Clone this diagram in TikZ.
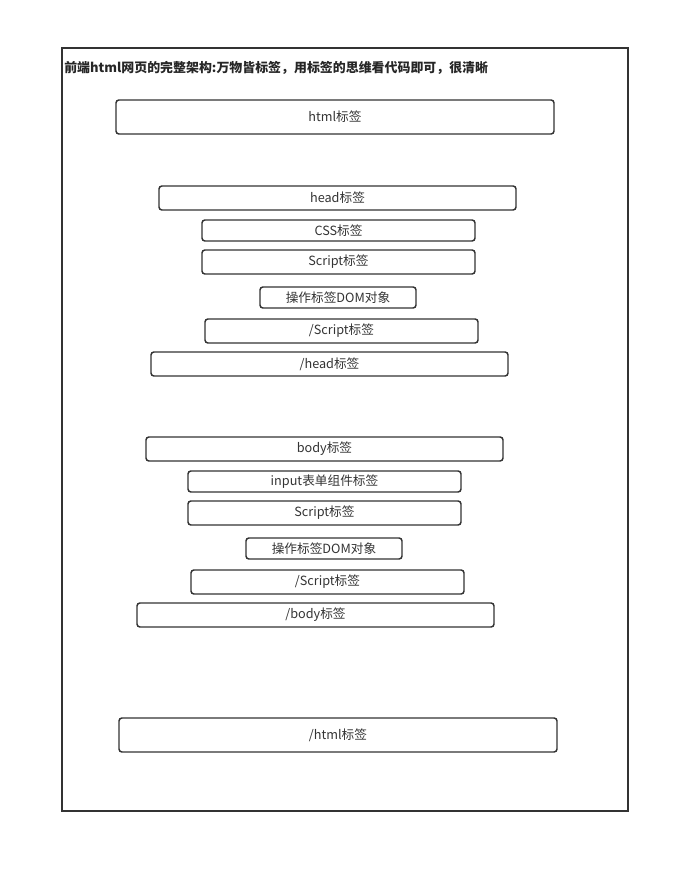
\documentclass[tikz,border=0pt]{standalone}
\usepackage{fontspec}
\newfontfamily\cjk{Noto Sans CJK SC}
\usepackage{tikz}

\begin{document}
\begin{tikzpicture}[x=0.75pt, y=-0.75pt,
        tag/.style={draw=black!80, line width=1.1pt, rounded corners=2.2pt, rectangle, inner sep=0pt, font=\cjk\fontsize{9.5}{11}\selectfont, text=black!80}]
        \useasboundingbox (0,0) rectangle (689,873);
        % Frame and title
        \draw[black!80, line width=1.1pt] (62,48) rectangle (628,811);
        \node (title) [anchor=west, inner sep=0pt, font=\cjk\bfseries\fontsize{9.7}{11}\selectfont, text=black!85] at (64,68) {前端html网页的完整架构:万物皆标签，用标签的思维看代码即可，很清晰};

        % Nodes
        \node (html) [tag, minimum width=438*0.75pt, minimum height=34*0.75pt] at (335,117) {html标签};
        \node (head) [tag, minimum width=357*0.75pt, minimum height=24*0.75pt] at (337.5,198) {head标签};
        \node (css) [tag, minimum width=273*0.75pt, minimum height=21*0.75pt] at (338.5,230.5) {CSS标签};
        \node (script_head) [tag, minimum width=273*0.75pt, minimum height=24*0.75pt] at (338.5,262) {Script标签};
        \node (dom_head) [tag, minimum width=156*0.75pt, minimum height=21*0.75pt] at (338,297.5) {操作标签DOM对象};
        \node (end_script_head) [tag, minimum width=273*0.75pt, minimum height=24*0.75pt] at (341.5,331) {/Script标签};
        \node (end_head) [tag, minimum width=357*0.75pt, minimum height=24*0.75pt] at (329.5,364) {/head标签};

        \node (body) [tag, minimum width=357*0.75pt, minimum height=24*0.75pt] at (324.5,449) {body标签};
        \node (input) [tag, minimum width=273*0.75pt, minimum height=21*0.75pt] at (324.5,481.5) {input表单组件标签};
        \node (script_body) [tag, minimum width=273*0.75pt, minimum height=24*0.75pt] at (324.5,513) {Script标签};
        \node (dom_body) [tag, minimum width=156*0.75pt, minimum height=21*0.75pt] at (324,548.5) {操作标签DOM对象};
        \node (end_script_body) [tag, minimum width=273*0.75pt, minimum height=24*0.75pt] at (327.5,582) {/Script标签};
        \node (end_body) [tag, minimum width=357*0.75pt, minimum height=24*0.75pt] at (315.5,615) {/body标签};

        \node (end_html) [tag, minimum width=438*0.75pt, minimum height=34*0.75pt] at (338,735) {/html标签};
    \end{tikzpicture}
\end{document}
